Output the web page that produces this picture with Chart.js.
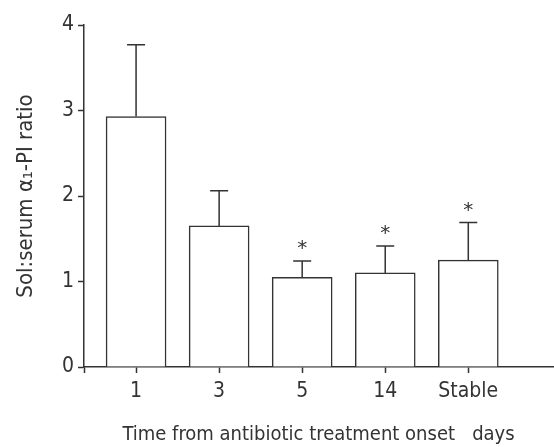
<!DOCTYPE html>
<html>
<head>
<meta charset="utf-8">
<script src="https://cdn.jsdelivr.net/npm/chart.js@4"></script>
<style>
  html, body { margin: 0; padding: 0; background: #fff; }
  #wrap { width: 554px; height: 447px; }
</style>
</head>
<body>
<div id="wrap"><canvas id="ratioChart"></canvas></div>
<script>
// data
let categories = ['1', '3', '5', '14', 'Stable'];
let meanRatio = [2.93, 1.65, 1.05, 1.10, 1.25];
let errorTop = [3.77, 2.06, 1.24, 1.415, 1.69];
let significant = [false, false, true, true, true];
let yTicks = [0, 1, 2, 3, 4];

const ink = '#333';
const font = '"DejaVu Sans Condensed", "Liberation Sans Narrow", sans-serif';

// error bars + asterisks drawn on top of the bars
const errorBars = {
  id: 'errorBars',
  afterDatasetsDraw(chart) {
    let ctx = chart.ctx;
    let x = chart.scales.x;
    let y = chart.scales.y;
    ctx.save();
    ctx.strokeStyle = ink;
    ctx.lineWidth = 1.5;
    for (let i = 0; i < meanRatio.length; i++) {
      let px = x.getPixelForValue(i);
      let yBar = y.getPixelForValue(meanRatio[i]);
      let yTop = y.getPixelForValue(errorTop[i]);
      ctx.beginPath();
      ctx.moveTo(px, yBar);
      ctx.lineTo(px, yTop);
      ctx.moveTo(px - 9, yTop);
      ctx.lineTo(px + 9, yTop);
      ctx.stroke();
      if (significant[i]) {
        ctx.fillStyle = ink;
        ctx.font = '20px "DejaVu Sans", sans-serif';
        ctx.textAlign = 'center';
        ctx.textBaseline = 'middle';
        ctx.fillText('*', px, yTop - 12);
      }
    }
    ctx.restore();
  }
};

let points = meanRatio.map((v, i) => ({ x: i, y: v }));

const config = {
  type: 'bar',
  data: {
    datasets: [{
      data: points,
      backgroundColor: '#fff',
      borderColor: ink,
      borderWidth: 1.5,
      barThickness: 60
    }]
  },
  options: {
    responsive: true,
    maintainAspectRatio: false,
    animation: false,
    layout: { padding: { top: 25, left: 13, right: 1, bottom: 0 } },
    plugins: { legend: { display: false }, tooltip: { enabled: false } },
    scales: {
      x: {
        type: 'linear',
        offset: false,
        min: -0.627,
        max: 5.02,
        afterBuildTicks(scale) {
          scale.ticks = [-0.627].concat(categories.map((c, i) => i)).map(v => ({ value: v }));
        },
        afterFit(scale) { scale.height = 80; },
        ticks: {
          color: ink,
          font: { family: font, size: 21 },
          padding: 6,
          maxRotation: 0,
          autoSkip: false,
          callback: (v) => categories[v] !== undefined ? categories[v] : ''
        },
        grid: { offset: false, drawOnChartArea: false, tickLength: 6, tickColor: ink, tickWidth: 1.5 },
        border: { color: ink, width: 1.5 },
        title: {
          display: true,
          text: 'Time from antibiotic treatment onset   days',
          color: ink,
          font: { family: font, size: 20 },
          padding: 0
        }
      },
      y: {
        min: 0,
        max: 4,
        afterBuildTicks(scale) {
          scale.ticks = yTicks.map(v => ({ value: v }));
        },
        afterFit(scale) { scale.width = 71; },
        ticks: { color: ink, font: { family: font, size: 21 }, padding: 4 },
        grid: { drawOnChartArea: false, tickLength: 6, tickColor: ink, tickWidth: 1.5 },
        border: { color: ink, width: 1.5 },
        title: {
          display: true,
          text: 'Sol:serum α₁-PI ratio',
          color: ink,
          font: { family: font, size: 22 },
          padding: 0
        }
      }
    }
  },
  plugins: [errorBars]
};

let canvasChart = document.getElementById('ratioChart');
const ratioChart = new Chart(canvasChart, config);
</script>
</body>
</html>
